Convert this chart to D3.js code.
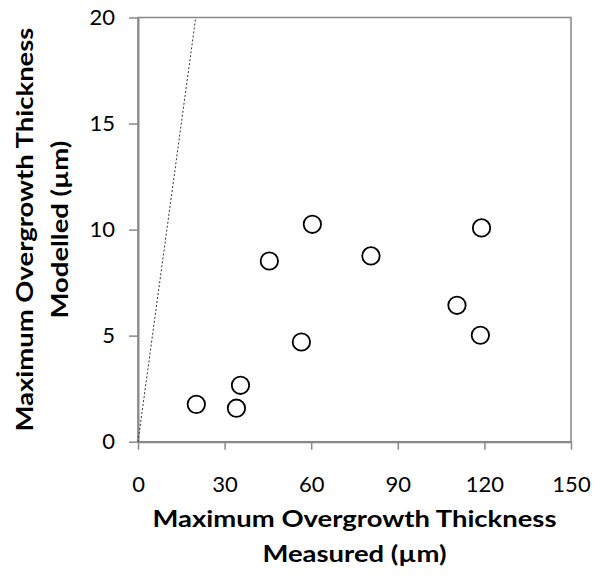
<!DOCTYPE html>
<html>
<head>
<meta charset="utf-8">
<script src="https://cdn.jsdelivr.net/npm/d3@7"></script>
<style>
  html, body { margin: 0; padding: 0; background: #fff; }
  svg { display: block; }
</style>
</head>
<body>
<svg id="chart" width="594" height="576"></svg>
<script>
// Measured vs modelled maximum overgrowth thickness (µm)
const measured = [20.2, 34.1, 35.5, 45.5, 56.6, 60.4, 80.7, 110.5, 118.6, 119.0];
const modelled = [1.76, 1.58, 2.66, 8.52, 4.70, 10.25, 8.76, 6.43, 5.02, 10.08];
const xTicks = [0, 30, 60, 90, 120, 150];
const yTicks = [0, 5, 10, 15, 20];
const oneToOne = [[0, 0], [20, 20]];

const svg = d3.select("#chart");
const plotLeft = 138, plotRight = 571, plotTop = 17.5, plotBottom = 441.7;
const axisColor = "#898989";
const font = "Lato, 'Open Sans', sans-serif";

const x = d3.scaleLinear().domain([0, 150]).range([plotLeft, plotRight]);
const y = d3.scaleLinear().domain([0, 20]).range([plotBottom, plotTop]);

// Plot frame
svg.append("rect")
  .attr("x", plotLeft).attr("y", plotTop)
  .attr("width", plotRight - plotLeft).attr("height", plotBottom - plotTop)
  .attr("fill", "none").attr("stroke", axisColor).attr("stroke-width", 1.5);

// Axes
const xAxis = d3.axisBottom(x).tickValues(xTicks).tickSize(8).tickSizeOuter(0).tickPadding(27);
const yAxis = d3.axisLeft(y).tickValues(yTicks).tickSize(9).tickSizeOuter(0).tickPadding(14);

const gx = svg.append("g").attr("transform", `translate(0,${plotBottom})`).call(xAxis);
const gy = svg.append("g").attr("transform", `translate(${plotLeft},0)`).call(yAxis);

[gx, gy].forEach(g => {
  g.select(".domain").attr("stroke", axisColor).attr("stroke-width", 2);
  g.selectAll(".tick line").attr("stroke", axisColor).attr("stroke-width", 1.5);
  g.selectAll(".tick text")
    .attr("fill", "#000")
    .style("font-family", font)
    .style("font-size", "22px");
});

// 1:1 reference line
const line = d3.line().x(d => x(d[0])).y(d => y(d[1]));
svg.append("path")
  .datum(oneToOne)
  .attr("d", line)
  .attr("fill", "none")
  .attr("stroke", "#333")
  .attr("stroke-width", 1)
  .attr("stroke-dasharray", "2,2");

// Data points
svg.append("g")
  .selectAll("circle")
  .data(measured.map((m, i) => [m, modelled[i]]))
  .join("circle")
  .attr("cx", d => x(d[0]))
  .attr("cy", d => y(d[1]))
  .attr("r", 8.7)
  .attr("fill", "#fff")
  .attr("stroke", "#000")
  .attr("stroke-width", 1.8);

// Axis titles
const titleStyle = t => t
  .attr("text-anchor", "middle")
  .attr("fill", "#000")
  .style("font-family", font)
  .style("font-weight", "700")
  .style("font-size", "22px");

const midX = (plotLeft + plotRight) / 2;
const xt1 = svg.append("text").attr("x", midX).attr("y", 527).text("Maximum Overgrowth Thickness").call(titleStyle);
const xt2 = svg.append("text").attr("x", midX).attr("y", 562).text("Measured (µm)").call(titleStyle);

const midY = (plotTop + plotBottom) / 2;
const yTitle = svg.append("g").attr("transform", `translate(0,${midY}) rotate(-90)`);
const yt1 = yTitle.append("text").attr("x", 0).attr("y", 33).text("Maximum Overgrowth Thickness").call(titleStyle);
const yt2 = yTitle.append("text").attr("x", 0).attr("y", 68).text("Modelled (µm)").call(titleStyle);

// Fit title widths to the frame
const target = 404;
const ratio = target / xt1.node().getComputedTextLength();
[xt1, xt2, yt1, yt2].forEach(t => {
  const w = t.node().getComputedTextLength();
  t.attr("textLength", w * ratio).attr("lengthAdjust", "spacingAndGlyphs");
});
</script>
</body>
</html>
